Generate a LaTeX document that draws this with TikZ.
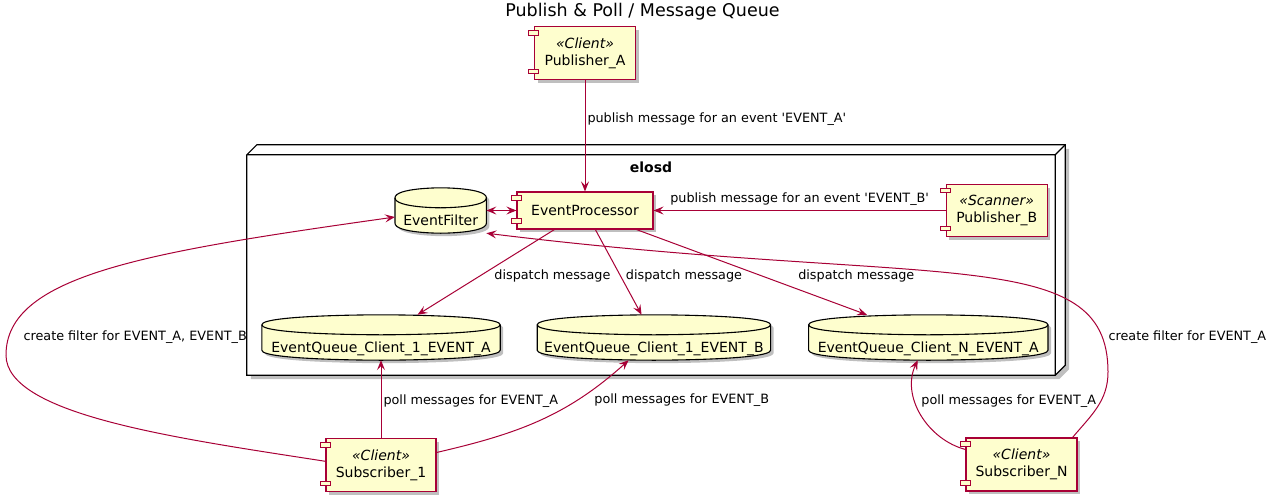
\documentclass[tikz,border=0pt]{standalone}
\usepackage{fontspec}
\setmainfont{DejaVu Sans}
\usetikzlibrary{positioning,arrows.meta,shadows,backgrounds}
\definecolor{umlfill}{HTML}{FEFECE}
\definecolor{umlred}{HTML}{A80036}
% drum outline and rim round a database node
\newcommand\dbshape[1]{([yshift=-10pt]#1.north west) .. controls (#1.north west) and (#1.north) .. (#1.north) .. controls (#1.north) and (#1.north east) .. ([yshift=-10pt]#1.north east) -- ([yshift=10pt]#1.south east) .. controls (#1.south east) and (#1.south) .. (#1.south) .. controls (#1.south) and (#1.south west) .. ([yshift=10pt]#1.south west) -- cycle}
\newcommand\dbrim[1]{([yshift=-10pt]#1.north west) .. controls ([yshift=-20pt]#1.north west) and ([yshift=-20pt]#1.north) .. ([yshift=-20pt]#1.north) .. controls ([yshift=-20pt]#1.north) and ([yshift=-20pt]#1.north east) .. ([yshift=-10pt]#1.north east)}
\begin{document}
\begin{tikzpicture}[x=1pt, y=1pt,
node distance = 30pt and 30pt,
>={Stealth[length=10pt,width=8pt,inset=4pt]},
     comp/.style = {rectangle, draw=umlred, fill=umlfill, line width=1.2pt, inner sep=0pt, align=center,
                    font=\fontsize{14}{16.5}\selectfont,
                    drop shadow={shadow xshift=3pt, shadow yshift=-3pt, fill=black, opacity=.25}},
      tab/.style = {draw=umlred, fill=umlfill, line width=1pt},
       db/.style = {rectangle, inner sep=0pt, minimum height=45pt, text height=37pt, text depth=8pt,
                    font=\fontsize{14}{16.5}\selectfont},
   dbline/.style = {draw=black, fill=umlfill, line width=1.1pt},
  pkgline/.style = {draw=black, line width=1.2pt},
     flow/.style = {draw=umlred, line width=1pt, ->},
      lbl/.style = {font=\fontsize{12.8}{15}\selectfont, inner sep=0pt, text=black}
                    ]
\useasboundingbox (0,0) rectangle (1275,-501);
\node (title) [font=\fontsize{17.5}{21}\selectfont] at (642.5,-12) {Publish \& Poll / Message Queue};

\node (elosd) [minimum width=808pt, minimum height=220pt, inner sep=0pt,
  label={[name=elosdname, font=\fontsize{14}{16.5}\selectfont\bfseries, anchor=center, yshift=-12pt]north:elosd}] at (651,-265) {};

\node (evproc) [comp, minimum width=136pt, minimum height=37pt] at (585,-210.5) {EventProcessor};
\node (pubA)   [comp, minimum width=101pt, minimum height=53pt, above=111pt of evproc] {\textit{«Client»}\\Publisher\_A};
\node (pubB)   [comp, minimum width=101pt, minimum height=52pt, right=292pt of evproc] {\textit{«Scanner»}\\Publisher\_B};
\node (filter) [db, minimum width=91pt, left=30pt of evproc] {EventFilter};
\node (q1) [db, minimum width=238pt] at (381,-337.5) {EventQueue\_Client\_1\_EVENT\_A};
\node (q2) [db, minimum width=233pt, right=37pt of q1] {EventQueue\_Client\_1\_EVENT\_B};
\node (q3) [db, minimum width=239pt, right=38pt of q2] {EventQueue\_Client\_N\_EVENT\_A};
\node (sub1) [comp, minimum width=110pt, minimum height=53pt, below=78pt of q1] {\textit{«Client»}\\Subscriber\_1};
\node (subN) [comp, minimum width=111pt, minimum height=53pt] at (1021.5,-464.5) {\textit{«Client»}\\Subscriber\_N};

\coordinate (lbend) at (6,-355);
\coordinate (rbend) at (1108,-372);

% component tabs
\foreach \n in {pubA,evproc,pubB,sub1,subN} {
  \draw[tab] ([shift={(-5pt,-4.5pt)}]\n.north west) rectangle ++(10,-4.5);
  \draw[tab] ([shift={(-5pt,6.5pt)}]\n.south west) rectangle ++(10,4.5);
}

\draw[flow] (pubA) -- node[lbl, pos=.35, anchor=west, xshift=2pt] {publish message for an event \textquotesingle EVENT\_A\textquotesingle} (evproc);
\draw[flow] (pubB) -- node[lbl, above=4pt] {publish message for an event \textquotesingle EVENT\_B\textquotesingle} (evproc);
\draw[flow, <->] (filter) -- (evproc);
\draw[flow] (evproc) -- node[lbl, anchor=west, xshift=8pt, yshift=-3.5pt] {dispatch message} (q1);
\draw[flow] (evproc) -- node[lbl, anchor=west, xshift=7pt, yshift=-3.5pt] {dispatch message} (q2);
\draw[flow] (evproc) -- node[lbl, anchor=west, xshift=46pt, yshift=-3.5pt] {dispatch message} (q3);
\draw[flow] (sub1) -- node[lbl, pos=.48, anchor=west, xshift=2pt] {poll messages for EVENT\_A} (q1);
\draw[flow] (sub1) to[out=13, in=-138] node[lbl, pos=.75, anchor=west, xshift=10pt, yshift=-5pt] {poll messages for EVENT\_B} (q2);
\draw[flow] (subN) to[out=165, in=-115] node[lbl, pos=.5, anchor=west, yshift=13pt] {poll messages for EVENT\_A} (q3);
\draw[flow] ([yshift=4pt]sub1.west) .. controls +(-148,23) and +(0,-60) .. (lbend)
      node[lbl, anchor=west, xshift=17pt, yshift=17.5pt] {create filter for EVENT\_A, EVENT\_B}
      .. controls +(0,80) and +(-248,-35) .. ([yshift=-6.5pt]filter.west);
\draw[flow] ([xshift=-5pt]subN.north east) to[out=50, in=-90] (rbend)
      node[lbl, anchor=west, yshift=35pt] {create filter for EVENT\_A}
      .. controls +(0,130) and +(447,-55) .. (filter.south east);

\begin{scope}[on background layer]
  \path[pkgline, fill=white, drop shadow={shadow xshift=4pt, shadow yshift=-4pt, fill=black, opacity=.25}]
    (elosd.south west) -- (elosd.north west) -- ++(10,10) -- ([shift={(10pt,10pt)}]elosd.north east)
    -- ([shift={(10pt,10pt)}]elosd.south east) -- (elosd.south east) -- cycle;
  \draw[pkgline] (elosd.north west) -- (elosd.north east) -- (elosd.south east)
    (elosd.north east) -- ++(10,10);
  \foreach \n in {filter,q1,q2,q3} {
    \fill[black, opacity=.25, transform canvas={shift={(3pt,-3pt)}}] \dbshape{\n};
    \draw[dbline] \dbshape{\n};
    \draw[dbline, fill=none] \dbrim{\n};
  }
\end{scope}
\end{tikzpicture}
\end{document}
